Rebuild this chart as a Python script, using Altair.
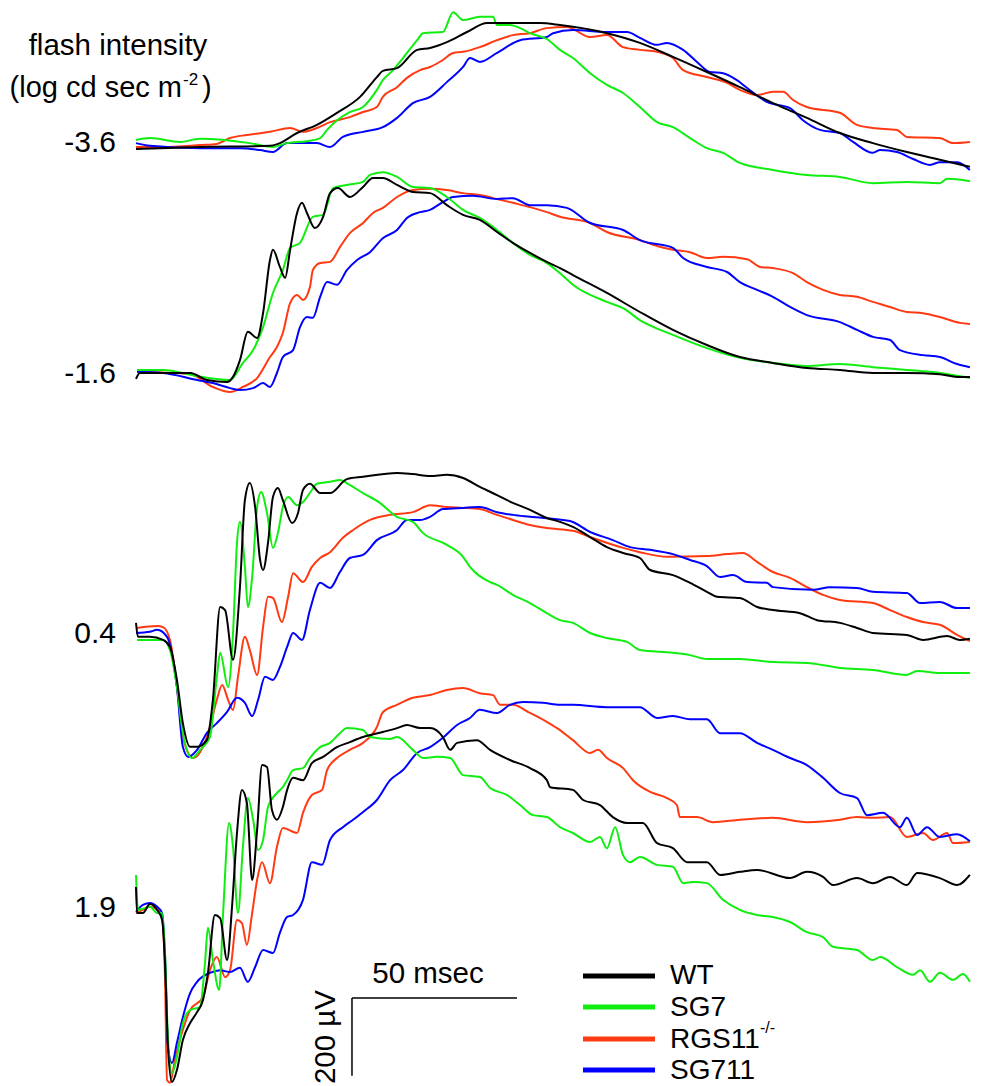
import altair as alt
import pandas as pd

# ---------------- data (time in ms after flash, amplitude in microvolts) ----------------
GENOTYPES = ["WT", "SG7", "RGS11-/-", "SG711"]
INTENSITIES = ["-3.6", "-1.6", "0.4", "1.9"]

# flash -3.6 log cd sec m-2
WT_A_T = [0, 19.4, 40.6, 43.0, 48.8, 54.8, 60.9, 67.9, 73.0, 74.8, 79.1, 85.2, 89.1, 94.2, 100.3, 106.4, 114.2, 122.4, 128.5, 142.7, 152.7, 162.7, 173.0, 183.0, 193.0, 203.3, 213.3, 223.3, 233.6, 243.6, 252.7]
WT_A_V = [-5, 0, 3, 8, 36, 57, 88, 129, 180, 196, 203, 250, 255, 270, 296, 319, 319, 319, 314, 293, 268, 232, 193, 154, 113, 75, 36, 10, -13, -33, -51]
SG7_A_T = [0, 4.2, 13.3, 19.4, 34.5, 41.5, 45.8, 51.8, 55.8, 57.9, 60.9, 64.8, 68.8, 73.0, 74.8, 77.9, 80.9, 85.2, 87.0, 93.0, 96.1, 99.1, 104.2, 108.2, 109.4, 113.3, 116.4, 119.4, 124.5, 128.5, 132.4, 137.6, 142.7, 147.6, 152.7, 157.9, 162.7, 167.9, 173.0, 177.9, 183.0, 193.0, 203.3, 213.3, 223.3, 233.6, 243.6, 245.8, 252.7]
SG7_A_V = [18, 23, 13, 21, 10, 0, 10, 15, 23, 44, 69, 90, 103, 147, 172, 198, 229, 275, 293, 296, 347, 327, 335, 335, 314, 314, 306, 293, 278, 250, 229, 190, 160, 139, 103, 64, 51, 23, -3, -15, -41, -59, -72, -77, -93, -90, -93, -82, -88]
RGS_A_T = [0, 8.2, 19.4, 24.5, 28.5, 33.6, 40.6, 46.7, 50.6, 54.8, 58.8, 64.8, 68.8, 73.0, 74.8, 79.1, 82.1, 86.1, 89.1, 93.0, 96.1, 99.1, 104.2, 109.4, 114.2, 119.4, 124.5, 130.6, 137.6, 142.7, 147.6, 152.7, 157.9, 162.7, 165.8, 173.0, 179.1, 183.0, 188.2, 193.0, 196.1, 199.1, 203.3, 213.3, 218.5, 223.3, 230.6, 233.6, 243.6, 247.6, 252.7]
RGS_A_V = [0, 0, 5, 8, 23, 31, 39, 49, 39, 49, 64, 77, 90, 103, 129, 154, 178, 198, 206, 224, 242, 245, 257, 275, 288, 293, 306, 309, 283, 288, 257, 250, 245, 229, 198, 180, 165, 147, 134, 142, 142, 121, 103, 88, 57, 49, 44, 26, 23, 10, 13]
SG711_A_T = [0, 4.2, 19.4, 31.5, 37.6, 41.5, 45.8, 54.8, 58.8, 62.7, 68.8, 74.8, 79.1, 83.9, 89.1, 94.2, 99.1, 101.2, 104.2, 109.4, 116.4, 124.5, 126.4, 132.4, 142.7, 148.8, 152.7, 157.9, 160.9, 165.8, 170.0, 173.9, 177.9, 182.1, 185.2, 191.2, 198.2, 202.1, 207.3, 213.3, 217.3, 223.3, 225.5, 230.6, 235.5, 240.6, 243.6, 248.8, 252.7]
SG711_A_V = [10, 3, -3, -3, -8, -13, 10, 10, 0, 26, 39, 51, 75, 113, 129, 167, 206, 229, 219, 242, 275, 283, 293, 301, 296, 296, 281, 263, 268, 250, 219, 193, 190, 172, 152, 116, 100, 69, 44, 36, 13, -15, -8, -13, -31, -46, -39, -39, -59]

# flash -1.6
WT_B_T = [0, 1.2, 16.4, 21.5, 27.6, 29.4, 31.5, 33.9, 36.7, 38.5, 40.6, 41.5, 43.6, 45.2, 46.7, 48.8, 50.3, 51.8, 54.2, 56.7, 58.8, 61.2, 64.8, 68.8, 71.8, 74.8, 79.1, 83.9, 89.1, 94.2, 99.1, 104.2, 109.4, 114.2, 119.4, 124.5, 128.5, 132.4, 142.7, 152.7, 162.7, 173.0, 183.0, 193.0, 203.3, 213.3, 223.3, 233.6, 243.6, 248.8, 252.7]
WT_B_V = [-15, 0, 0, -18, -23, -10, 33, 106, 90, 154, 291, 317, 273, 245, 317, 412, 438, 412, 373, 402, 463, 476, 453, 479, 502, 502, 484, 466, 463, 432, 407, 394, 363, 335, 309, 286, 270, 252, 206, 157, 111, 72, 41, 26, 13, 8, 0, 0, -3, -10, -10]
SG7_B_T = [0.3, 8.2, 18.5, 28.5, 32.4, 35.5, 38.5, 41.5, 44.5, 46.7, 49.7, 53.6, 56.7, 59.7, 63.9, 68.8, 70.9, 74.8, 79.1, 83.9, 89.1, 94.2, 99.1, 104.2, 109.4, 114.2, 119.4, 124.5, 128.5, 132.4, 142.7, 147.6, 152.7, 162.7, 173.0, 183.0, 193.0, 203.3, 213.3, 223.3, 233.6, 243.6, 252.7]
SG7_B_V = [8, 8, -8, -18, 26, 59, 118, 206, 265, 322, 335, 402, 407, 476, 484, 492, 510, 517, 505, 479, 476, 453, 420, 399, 368, 335, 304, 283, 257, 227, 183, 167, 136, 98, 64, 39, 26, 18, 23, 15, 8, 0, -13]
RGS_B_T = [0.3, 16.4, 23.3, 28.5, 32.4, 36.7, 40.6, 42.7, 44.5, 46.7, 48.8, 50.6, 52.7, 53.6, 55.8, 58.8, 61.8, 64.8, 68.8, 71.8, 74.8, 79.1, 83.9, 89.1, 94.2, 99.1, 104.2, 109.4, 114.2, 119.4, 124.5, 128.5, 137.6, 142.7, 152.7, 157.9, 162.7, 167.9, 173.0, 177.9, 185.2, 189.1, 193.0, 199.1, 203.3, 208.2, 213.3, 218.5, 223.3, 228.5, 233.6, 238.5, 243.6, 249.7, 252.7]
RGS_B_V = [3, -3, -36, -49, -36, -13, 41, 67, 103, 180, 201, 188, 221, 265, 283, 286, 324, 360, 386, 412, 425, 453, 471, 474, 471, 463, 458, 448, 438, 427, 414, 402, 386, 363, 342, 327, 317, 311, 296, 299, 293, 273, 270, 257, 234, 214, 201, 196, 183, 170, 157, 154, 144, 129, 126]
SG711_B_T = [0.3, 8.2, 18.5, 23.3, 28.5, 31.5, 35.5, 38.5, 40.6, 42.7, 44.5, 47.6, 49.7, 51.8, 53.6, 55.8, 57.9, 60.9, 63.9, 67.0, 70.9, 74.8, 79.1, 82.1, 86.1, 89.1, 93.0, 96.1, 102.1, 109.4, 114.2, 119.4, 124.5, 130.6, 137.6, 147.6, 152.7, 162.7, 165.8, 173.0, 179.1, 183.0, 188.2, 193.0, 198.2, 203.3, 213.3, 218.5, 223.3, 228.5, 231.5, 238.5, 243.6, 248.8, 252.7]
SG711_B_V = [3, 0, -18, -26, -39, -44, -39, -26, -36, 0, 41, 59, 118, 144, 142, 196, 234, 227, 265, 291, 311, 347, 368, 399, 414, 420, 440, 453, 456, 448, 450, 432, 432, 425, 386, 368, 342, 322, 296, 273, 260, 234, 214, 196, 170, 149, 131, 111, 93, 85, 59, 46, 41, 23, 15]

# flash 0.4
WT_C_T = [0, 0.6, 4.2, 8.2, 10.3, 12.4, 14.2, 16.4, 18.5, 21.5, 23.3, 25.5, 27.0, 29.4, 31.5, 33.0, 34.5, 36.1, 37.6, 38.5, 40.0, 41.5, 43.0, 44.5, 47.3, 49.1, 50.6, 52.7, 55.8, 58.8, 63.9, 68.8, 79.1, 83.9, 89.1, 94.2, 99.1, 104.2, 109.4, 114.2, 119.4, 124.5, 128.5, 132.4, 137.6, 142.7, 147.6, 152.7, 155.8, 162.7, 167.9, 173.0, 176.1, 183.0, 188.2, 193.0, 201.2, 206.4, 213.3, 218.5, 223.3, 233.6, 238.5, 245.8, 249.7, 252.7]
WT_C_V = [26, -10, -10, -18, -36, -121, -232, -293, -293, -275, -172, 67, 59, -69, 118, 342, 386, 324, 188, 162, 232, 350, 373, 342, 283, 309, 368, 384, 360, 360, 396, 402, 412, 409, 404, 407, 399, 376, 355, 335, 317, 296, 286, 273, 247, 221, 206, 193, 162, 149, 129, 106, 93, 90, 67, 59, 51, 33, 26, 13, 0, -5, -18, -8, -18, -15]
SG7_C_T = [0.3, 8.2, 10.3, 12.4, 14.2, 17.0, 19.4, 22.4, 24.5, 25.5, 27.9, 29.4, 30.6, 31.5, 33.0, 33.9, 35.2, 36.7, 37.9, 39.7, 41.5, 43.0, 44.5, 46.1, 48.8, 50.6, 53.3, 54.8, 58.8, 61.8, 64.8, 68.8, 73.9, 79.1, 83.9, 87.0, 94.2, 99.1, 101.2, 107.3, 109.4, 114.2, 119.4, 124.5, 128.5, 132.4, 137.6, 142.7, 148.8, 152.7, 162.7, 167.9, 173.0, 183.0, 193.0, 203.3, 213.3, 223.3, 233.6, 236.7, 243.6, 252.7]
SG7_C_V = [-18, -18, -44, -139, -257, -322, -301, -268, -113, -51, -139, 0, 232, 286, 170, 67, 144, 324, 363, 309, 219, 257, 324, 350, 329, 337, 368, 384, 389, 394, 381, 360, 335, 299, 286, 257, 227, 196, 170, 131, 124, 98, 77, 51, 33, 26, 0, -13, -23, -44, -51, -57, -67, -67, -75, -77, -90, -95, -108, -98, -103, -103]
RGS_C_T = [0.3, 6.4, 8.2, 10.3, 12.4, 13.9, 15.8, 17.3, 20.3, 22.4, 24.5, 26.1, 27.9, 29.4, 30.9, 33.0, 34.5, 36.7, 38.5, 40.0, 41.5, 44.2, 46.1, 47.6, 50.6, 53.3, 55.8, 58.8, 62.7, 65.8, 70.9, 77.0, 83.9, 89.1, 94.2, 99.1, 104.2, 109.4, 114.2, 119.4, 124.5, 132.4, 137.6, 147.6, 152.7, 160.9, 173.0, 179.1, 183.9, 188.2, 193.0, 198.2, 203.3, 208.2, 213.3, 223.3, 228.5, 233.6, 238.5, 243.6, 248.8, 252.7]
RGS_C_V = [13, 18, 15, -18, -139, -250, -309, -322, -293, -242, -172, -134, -172, -198, -113, -10, -44, -108, 15, 93, 90, 28, 93, 154, 131, 170, 193, 208, 245, 265, 291, 304, 311, 329, 324, 322, 319, 304, 291, 278, 270, 263, 247, 219, 208, 196, 198, 203, 206, 183, 157, 142, 118, 98, 85, 77, 59, 41, 28, 21, -5, -21]
SG711_C_T = [0, 4.2, 6.4, 9.4, 12.4, 14.2, 15.8, 18.5, 21.5, 24.5, 27.6, 30.6, 33.0, 35.2, 37.0, 39.1, 41.5, 43.6, 45.8, 47.6, 50.3, 52.7, 55.8, 58.8, 61.8, 64.8, 68.8, 73.0, 79.1, 82.1, 86.1, 89.1, 93.0, 99.1, 104.2, 109.4, 114.2, 119.4, 131.5, 137.6, 144.5, 149.7, 155.8, 162.7, 167.9, 173.0, 177.0, 180.9, 185.2, 191.2, 193.0, 205.2, 210.3, 218.5, 223.3, 233.6, 237.6, 243.6, 248.8, 252.7]
SG711_C_V = [0, 3, 8, -10, -139, -293, -319, -301, -257, -232, -203, -167, -180, -214, -172, -113, -121, -88, -36, 0, -18, 59, 129, 116, 157, 193, 201, 239, 265, 291, 291, 299, 319, 322, 324, 311, 304, 299, 288, 260, 239, 221, 214, 203, 188, 172, 144, 149, 131, 129, 118, 111, 118, 116, 106, 103, 77, 80, 64, 64]

# flash 1.9
WT_D_T = [0, 0.3, 2.1, 4.2, 6.4, 7.9, 8.8, 9.7, 10.9, 12.4, 14.2, 16.4, 18.5, 20.3, 21.8, 23.9, 25.5, 27.6, 29.1, 30.6, 32.1, 33.6, 35.2, 36.7, 38.2, 39.7, 41.2, 42.7, 44.5, 45.8, 47.6, 50.6, 53.3, 56.7, 60.9, 64.8, 68.8, 74.8, 79.1, 82.1, 86.1, 89.1, 93.0, 95.2, 97.3, 103.3, 107.3, 113.3, 119.4, 124.5, 125.5, 132.4, 135.5, 140.6, 144.5, 148.8, 153.6, 157.9, 162.7, 167.0, 173.0, 177.0, 183.0, 188.2, 198.2, 203.3, 208.2, 211.2, 218.5, 223.3, 228.5, 233.6, 236.7, 243.6, 248.8, 252.7]
WT_D_V = [54, -13, -13, 10, -5, -31, -142, -358, -448, -417, -340, -296, -268, -237, -167, -18, -26, -134, 3, 193, 304, 270, 72, 201, 368, 363, 252, 227, 260, 304, 335, 329, 373, 389, 414, 427, 440, 453, 463, 471, 463, 463, 440, 407, 425, 432, 407, 381, 360, 329, 311, 304, 278, 265, 234, 219, 219, 167, 154, 118, 118, 85, 93, 98, 77, 93, 80, 59, 77, 64, 80, 59, 90, 77, 59, 85]
SG7_D_T = [0, 0.6, 4.2, 6.4, 7.9, 8.8, 9.7, 10.9, 12.4, 14.2, 16.4, 19.4, 20.9, 21.8, 23.3, 25.2, 26.4, 28.2, 29.4, 30.9, 32.4, 33.9, 35.5, 37.0, 38.5, 40.0, 42.7, 44.5, 45.8, 47.6, 50.6, 52.7, 55.8, 58.8, 61.8, 63.9, 68.8, 70.9, 77.0, 79.1, 83.9, 87.0, 91.2, 95.2, 99.1, 104.2, 107.3, 112.4, 116.4, 120.3, 124.5, 128.5, 132.4, 137.6, 140.6, 142.7, 145.2, 147.6, 149.7, 152.7, 157.9, 162.7, 165.8, 168.8, 173.0, 177.9, 183.0, 188.2, 193.0, 198.2, 203.3, 208.2, 211.2, 218.5, 223.3, 225.5, 230.6, 235.5, 237.6, 240.6, 243.6, 247.6, 250.6, 252.7]
SG7_D_V = [85, -5, 3, -13, -13, -116, -340, -425, -384, -296, -263, -255, -142, -51, -134, -211, -13, 219, 157, -13, 157, 283, 227, 149, 175, 260, 296, 311, 329, 355, 360, 386, 414, 425, 450, 463, 458, 440, 435, 440, 407, 386, 389, 386, 342, 337, 309, 291, 265, 239, 234, 208, 193, 170, 183, 154, 208, 136, 118, 131, 111, 106, 64, 67, 64, 21, -5, -18, -23, -36, -62, -75, -100, -108, -134, -126, -152, -172, -160, -190, -167, -185, -170, -190]
RGS_D_T = [0, 2.1, 4.2, 6.7, 7.9, 8.8, 9.4, 10.3, 11.8, 13.9, 16.4, 20.3, 22.4, 24.5, 27.0, 28.5, 30.6, 32.1, 33.6, 35.2, 36.7, 38.2, 40.6, 42.7, 44.5, 48.8, 50.6, 53.3, 56.4, 57.9, 60.9, 64.8, 68.8, 73.0, 74.8, 79.1, 83.9, 89.1, 94.2, 99.1, 104.2, 108.2, 110.3, 114.2, 119.4, 124.5, 127.6, 132.4, 137.6, 140.0, 142.7, 147.6, 150.6, 155.8, 160.9, 163.9, 164.8, 170.0, 174.8, 183.0, 193.0, 203.3, 213.3, 218.5, 223.3, 228.5, 233.6, 238.5, 241.5, 245.8, 247.6, 252.7]
RGS_D_V = [-13, -5, 3, -5, -23, -185, -443, -450, -391, -322, -263, -229, -160, -126, -178, -160, -31, -39, -95, -13, 72, 118, 64, 157, 206, 193, 245, 291, 304, 355, 386, 407, 425, 466, 504, 523, 541, 548, 561, 566, 553, 548, 523, 523, 502, 479, 463, 432, 399, 407, 386, 360, 329, 299, 283, 265, 234, 234, 221, 227, 232, 221, 227, 234, 232, 234, 183, 193, 175, 193, 167, 170]
SG711_D_T = [0, 2.1, 4.2, 6.4, 7.9, 8.8, 9.7, 10.9, 12.4, 14.2, 16.4, 18.5, 22.4, 25.5, 28.5, 31.5, 33.9, 36.1, 38.5, 41.5, 43.6, 45.8, 47.6, 50.6, 53.3, 56.4, 58.8, 62.7, 65.8, 68.8, 73.0, 77.0, 80.9, 85.2, 89.1, 93.0, 97.3, 101.2, 104.2, 109.4, 113.3, 117.3, 123.3, 128.5, 132.4, 142.7, 152.7, 157.9, 162.7, 167.9, 173.0, 177.0, 183.0, 188.2, 193.0, 198.2, 203.3, 208.2, 213.3, 218.5, 221.5, 226.4, 231.5, 233.6, 236.7, 239.7, 243.6, 248.8, 252.7]
SG711_D_V = [-10, 8, 13, 3, -13, -126, -358, -399, -347, -281, -219, -190, -167, -160, -165, -154, -190, -152, -108, -116, -64, -23, -18, 21, 118, 111, 175, 208, 227, 247, 278, 329, 355, 399, 414, 438, 471, 489, 510, 502, 523, 530, 528, 523, 523, 517, 517, 489, 494, 486, 486, 450, 450, 425, 407, 386, 368, 335, 296, 283, 239, 245, 208, 232, 188, 208, 183, 190, 172]

SCALE_MS = 50      # horizontal scale bar
SCALE_UV = 200     # vertical scale bar

# ---------------- layout / style ----------------
COLORS = {"WT": "#000000", "SG7": "#10ee10", "RGS11-/-": "#ff3a12", "SG711": "#0000ff"}
# vertical stacking offsets of each intensity row (microvolts on the shared axis)
OFFSETS = {"-3.6": 1958.8, "-1.6": 1377.1, "0.4": 707.9, "1.9": 0.0}
W, H = 968, 1078
X_DOMAIN = [-38.79, 254.55]
Y_DOMAIN = [-458.2, 2316.6]
FONT = "Liberation Sans"

traces = [
    ("WT", "-3.6", WT_A_T, WT_A_V), ("SG7", "-3.6", SG7_A_T, SG7_A_V),
    ("RGS11-/-", "-3.6", RGS_A_T, RGS_A_V), ("SG711", "-3.6", SG711_A_T, SG711_A_V),
    ("WT", "-1.6", WT_B_T, WT_B_V), ("SG7", "-1.6", SG7_B_T, SG7_B_V),
    ("RGS11-/-", "-1.6", RGS_B_T, RGS_B_V), ("SG711", "-1.6", SG711_B_T, SG711_B_V),
    ("WT", "0.4", WT_C_T, WT_C_V), ("SG7", "0.4", SG7_C_T, SG7_C_V),
    ("RGS11-/-", "0.4", RGS_C_T, RGS_C_V), ("SG711", "0.4", SG711_C_T, SG711_C_V),
    ("WT", "1.9", WT_D_T, WT_D_V), ("SG7", "1.9", SG7_D_T, SG7_D_V),
    ("RGS11-/-", "1.9", RGS_D_T, RGS_D_V), ("SG711", "1.9", SG711_D_T, SG711_D_V),
]

rows = []
for geno, inten, ts, vs in traces:
    assert len(ts) == len(vs), (geno, inten, len(ts), len(vs))
    for i, (t, v) in enumerate(zip(ts, vs)):
        rows.append({"genotype": geno, "intensity": inten, "trace": geno + " " + inten,
                     "i": i, "t": t, "uv": v, "y": v + OFFSETS[inten]})
df = pd.DataFrame(rows)

xs = alt.Scale(domain=X_DOMAIN, nice=False, zero=False)
ys = alt.Scale(domain=Y_DOMAIN, nice=False, zero=False)

layers = []
for geno in ["RGS11-/-", "SG711", "SG7", "WT"]:
    layers.append(
        alt.Chart(df[df.genotype == geno]).mark_line(
            color=COLORS[geno], strokeWidth=2, interpolate="monotone", strokeJoin="round"
        ).encode(
            x=alt.X("t:Q", scale=xs, axis=None),
            y=alt.Y("y:Q", scale=ys, axis=None),
            detail="trace:N",
            order="i:Q",
        )
    )

# scale bars, drawn through the data scales
BAR_T0, BAR_Y0 = 65.45, -231.7
bar = pd.DataFrame({"t": [BAR_T0], "t2": [BAR_T0 + SCALE_MS],
                    "y": [BAR_Y0], "y2": [BAR_Y0 - SCALE_UV]})
hbar = alt.Chart(bar).mark_rule(color="black", strokeWidth=1.5).encode(
    x=alt.X("t:Q", scale=xs, axis=None), x2="t2:Q", y=alt.Y("y:Q", scale=ys, axis=None))
vbar = alt.Chart(bar).mark_rule(color="black", strokeWidth=1.5).encode(
    x=alt.X("t:Q", scale=xs, axis=None), y=alt.Y("y:Q", scale=ys, axis=None), y2="y2:Q")


def label(txt, x, y, size=29, align="left", angle=0):
    return alt.Chart(pd.DataFrame({"s": [txt]})).mark_text(
        align=align, baseline="alphabetic", fontSize=size, font=FONT, angle=angle, color="black"
    ).encode(text="s:N", x=alt.value(x), y=alt.value(y))


texts = [
    label("flash intensity", 110, 47, 29.5, "center"),
    label("(log cd sec m", 174, 89, 29, "right"),
    label("-2", 175, 77, 17, "left"),
    label(")", 194, 89, 29, "left"),
    label(INTENSITIES[0], 108, 144, 30, "right"),
    label(INTENSITIES[1], 108, 375, 30, "right"),
    label(INTENSITIES[2], 108, 635, 30, "right"),
    label(INTENSITIES[3], 108, 909, 30, "right"),
    label("50 msec", 420, 975, 29.5, "center"),
    label("200 \u00b5V", 327, 1029, 29.5, "center", 270),
]

legend = []
LEG_Y = [968, 999, 1031, 1062]
LEG_TEXT_Y = [976, 1008, 1040, 1071]
for geno, yy, ty in zip(GENOTYPES, LEG_Y, LEG_TEXT_Y):
    legend.append(alt.Chart(pd.DataFrame({"a": [0]})).mark_rule(
        color=COLORS[geno], strokeWidth=5).encode(
        x=alt.value(575), x2=alt.value(647), y=alt.value(yy)))
    name = "RGS11" if geno == "RGS11-/-" else geno
    legend.append(label(name, 662, ty, 28, "left"))
legend.append(label("-/-", 752, 1025, 16, "left"))

chart = alt.layer(*layers, hbar, vbar, *texts, *legend).properties(
    width=W, height=H, padding=0, autosize=alt.AutoSizeParams(type="none")
).configure_view(stroke=None)

chart.save("out.html", embed_options={"renderer": "svg", "actions": False})
